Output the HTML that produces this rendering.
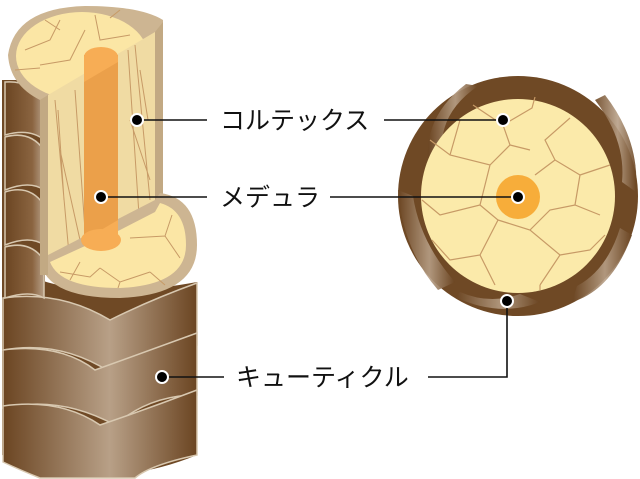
<!DOCTYPE html>
<html><head><meta charset="utf-8"><style>
html,body{margin:0;padding:0;background:#fff;width:640px;height:479px;overflow:hidden}
svg{display:block}
text{font-family:"Liberation Sans","Noto Sans CJK JP",sans-serif;font-size:25px;fill:#111}
</style></head><body>
<svg width="640" height="479" viewBox="0 0 640 479">
<defs>
<linearGradient id="sc" x1="0" y1="0" x2="1" y2="0">
<stop offset="0" stop-color="#6b4522"/><stop offset="0.55" stop-color="#b8a087"/><stop offset="1" stop-color="#6b4522"/>
</linearGradient>
<linearGradient id="sl" x1="0" y1="0" x2="1" y2="0">
<stop offset="0" stop-color="#6b4522"/><stop offset="0.7" stop-color="#8a6440"/><stop offset="1" stop-color="#b8a087"/>
</linearGradient>
</defs>
<path d="M2,280 L40,280 Q100,300 197,282 L197,455 Q100,495 2,455 Z" fill="#6f4925"/>
<path d="M2,80 L45,80 L45,300 L2,300 Z" fill="#6f4925"/>
<g fill="url(#sc)" stroke="#d8c8b0" stroke-width="1.5">
<path d="M3,298 Q60,290 110,320 Q150,300 197,283 L197,345 Q150,345 110,372 Q60,340 3,350 Z"/>
<path d="M3,350 Q60,343 95,370 Q150,350 197,333 L197,395 Q150,395 115,425 Q60,395 3,408 Z"/>
<path d="M3,406 Q60,398 100,425 Q150,408 197,390 L197,455 Q150,465 135,478 L40,478 Q20,470 3,462 Z"/>
</g>
<g fill="url(#sl)" stroke="#d8c8b0" stroke-width="1.5">
<path d="M5,82 Q30,80 44,100 L44,140 Q30,128 5,135 Z"/>
<path d="M5,137 Q30,130 44,150 L44,190 Q30,180 5,190 Z"/>
<path d="M5,192 Q30,184 44,205 L44,245 Q30,235 5,245 Z"/>
<path d="M5,247 Q30,240 44,260 L44,298 Q30,290 5,298 Z"/>
</g>
<!-- top cap and slab -->
<path d="M8,55 Q15,8 85,6 Q140,6 163,20 L163,205 L155,205 L155,255 L40,275 L40,100 Q10,85 8,55 Z" fill="#cdb592"/>
<ellipse cx="82" cy="56" rx="66" ry="44" fill="#fbe6a5"/>
<path d="M48,95 L155,32 L155,200 L155,240 L48,268 Z" fill="#f0dba3"/>
<path d="M48,95 L48,275 L40,275 L40,100 Z" fill="#c2a983"/>
<path d="M155,32 L163,22 L163,205 L155,200 Z" fill="#c2a983"/>
<g stroke="#c79a66" stroke-width="1" fill="none">
<path d="M55,100 L70,265 M75,90 L85,230 M128,50 L140,230 M135,45 L150,200 M140,70 L148,120 M60,150 L80,240 M130,120 L150,180 M58,110 L64,200"/>
<path d="M25,50 L50,40 L60,20 M40,65 L70,60 L85,30 M95,15 L100,40 L130,35 M15,70 L40,68 M110,18 L120,10 M60,30 L45,20"/>
</g>
<!-- bottom cap in front -->
<path d="M40,255 Q40,298 120,298 Q197,295 197,245 Q197,198 160,193 L155,200 L48,255 Z" fill="#cdb592"/>
<path d="M50,262 Q60,288 120,288 Q186,285 186,245 Q186,210 160,203 L155,212 L120,230 Z" fill="#fbe6a5"/>
<path d="M40,255 L48,250 L48,275 L40,275 Z" fill="#c2a983"/>
<g stroke="#c79a66" stroke-width="1" fill="none">
<path d="M100,268 L120,282 L150,272 M130,238 L165,236 L180,258 M60,272 L90,277 L100,268 M150,272 L165,285 M165,236 L172,215 M80,262 L70,280 M120,282 L118,288"/>
</g>
<!-- medulla -->
<rect x="84" y="55" width="34" height="185" fill="#eba04a"/>
<ellipse cx="101" cy="57" rx="17" ry="10" fill="#f7ad55"/>
<path d="M84,57 L118,57 L118,62 L84,82 Z" fill="#f7ad55"/>
<ellipse cx="101" cy="240" rx="20" ry="11" fill="#f7ad55"/>
<path d="M84,240 L118,220 L118,240 Z" fill="#f7ad55"/>
<!-- right circle -->
<circle cx="518" cy="196" r="120" fill="#6f4925"/>
<g fill="url(#sc)" opacity="0.9">
<path d="M466,84 Q425,115 428,160 L442,150 Q440,112 478,86 Z"/>
<path d="M605,95 Q640,140 636,192 L622,182 Q626,140 595,100 Z"/>
<path d="M632,235 Q612,290 572,302 L577,286 Q607,270 620,228 Z"/>
<path d="M398,190 Q403,250 438,290 L455,282 Q420,242 413,196 Z"/>
<path d="M455,297 Q500,318 540,302 L520,294 Q490,305 460,292 Z"/>
</g>
<circle cx="518" cy="196" r="97" fill="#fbeaaa"/>
<g stroke="#c79a66" stroke-width="1.2" fill="none">
<path d="M473,105 L503,125 L532,108 L535,97 M503,125 L510,145 L490,165 L450,155 L430,140 M490,165 L480,205 L440,215 L422,200 M480,205 L498,220 L480,255 L450,260 L432,240 M480,255 L495,285 M498,220 L530,230 L560,255 L540,285 M530,230 L550,210 L575,205 L600,215 M575,205 L580,175 L610,165 M580,175 L555,160 L545,140 L570,118 M555,160 L535,175 M510,145 L530,150 M460,120 L450,155 M560,255 L590,250 L605,235 M540,285 L540,290"/>
</g>
<circle cx="518" cy="197" r="22" fill="#f7ad3a"/>
<g stroke="#111" stroke-width="1.6" fill="none">
<path d="M137,120 H207 M384,120 H503 M101,197 H207 M330,197 H518 M162,377 H224 M428,377 H507 V302"/>
</g>
<g fill="#000" stroke="#fff" stroke-width="2">
<circle cx="137" cy="120" r="6"/><circle cx="101" cy="197" r="6"/><circle cx="162" cy="377" r="6"/>
<circle cx="503" cy="120" r="6"/><circle cx="518" cy="197" r="6"/><circle cx="507" cy="301" r="6"/>
</g>
<text x="220" y="129">コルテックス</text>
<text x="220" y="206">メデュラ</text>
<text x="236" y="386">キューティクル</text>
</svg>
</body></html>
